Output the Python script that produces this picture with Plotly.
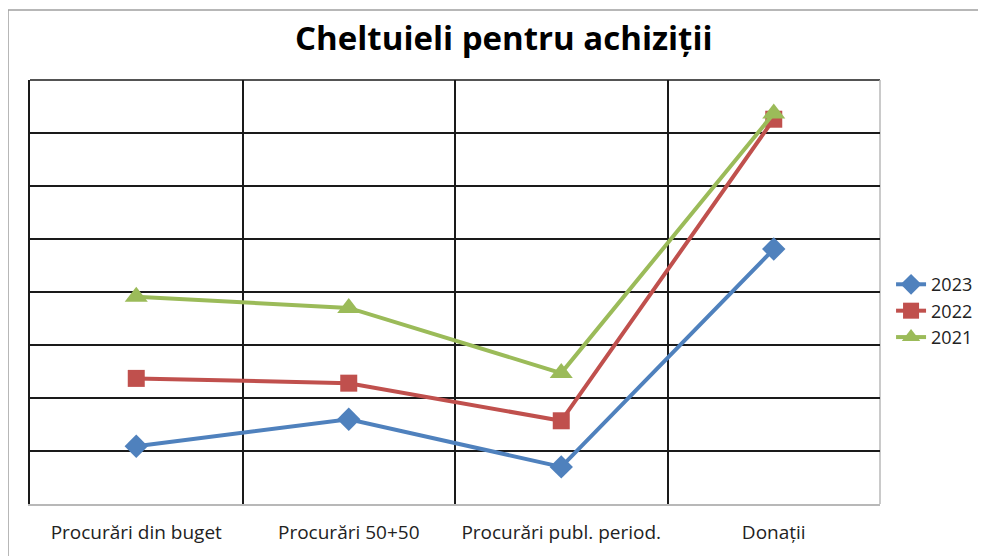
import plotly.graph_objects as go

categories = ["Procurări din buget", "Procurări 50+50", "Procurări publ. period.", "Donații"]
v2023 = [1.09, 1.60, 0.70, 4.81]
v2022 = [2.37, 2.28, 1.57, 7.26]
v2021 = [3.91, 3.70, 2.47, 7.37]

series = [
    ("2023", v2023, "#4F81BD", "diamond", 18),
    ("2022", v2022, "#C0504D", "square", 17),
    ("2021", v2021, "#9BBB59", "triangle-up", 20),
]

GRID = "#1a1a1a"
EDGE = "#B8B8B8"
W, H = 978, 548  # page body has an 8px margin
L, R, T, B = 22, 106, 72, 52
PW, PH = W - L - R, H - T - B

fig = go.Figure()
for name, vals, color, sym, size in series:
    fig.add_trace(go.Scatter(
        x=categories, y=vals, name=name, mode="lines+markers",
        line=dict(color=color, width=4),
        marker=dict(symbol=sym, size=size, color=color),
    ))

fig.update_layout(
    width=W, height=H,
    margin=dict(l=L, r=R, t=T, b=B, autoexpand=False),
    paper_bgcolor="white", plot_bgcolor="white",
    font=dict(family="Open Sans", size=17, color="#222222"),
    title=dict(text="<b>Cheltuieli pentru achiziții</b>", xref="container", x=0.507,
               xanchor="center", yref="container", y=0.945, yanchor="middle",
               font=dict(family="Open Sans", size=33, color="black")),
    showlegend=True,
    legend=dict(x=1.013, y=0.455, xanchor="left", yanchor="middle",
                font=dict(size=18, color="#222222"), tracegroupgap=0, itemwidth=30,
                bgcolor="rgba(0,0,0,0)"),
    xaxis=dict(type="category", tickson="boundaries", showgrid=True, gridcolor=GRID,
               gridwidth=1.5, ticks="", showline=True, linecolor=EDGE, linewidth=1.5,
               zeroline=False, automargin=False,
               ticklabelstandoff=10, tickfont=dict(size=19, color="#222222"),
               range=[-0.5, 3.5]),
    yaxis=dict(range=[0, 8], dtick=1, showgrid=True, gridcolor=GRID, gridwidth=1.5,
               showticklabels=False, ticks="", zeroline=False, automargin=False,
               showline=True, linecolor=GRID, linewidth=1.5),
    shapes=[
        dict(type="rect", xref="paper", yref="paper",
             x0=(0 - L) / PW, x1=(W + 20 - L) / PW,
             y0=-(H + 20 - T - PH) / PH, y1=(PH + T - 2) / PH,
             line=dict(color="#A0A0A0", width=1.5), layer="below"),
        dict(type="line", xref="paper", yref="paper", x0=0, x1=1, y0=1, y1=1,
             line=dict(color=GRID, width=1.5), layer="below"),
        dict(type="line", xref="paper", yref="paper", x0=1, x1=1, y0=0, y1=1,
             line=dict(color=EDGE, width=1.5), layer="below"),
    ],
)

fig.write_html("out.html")
